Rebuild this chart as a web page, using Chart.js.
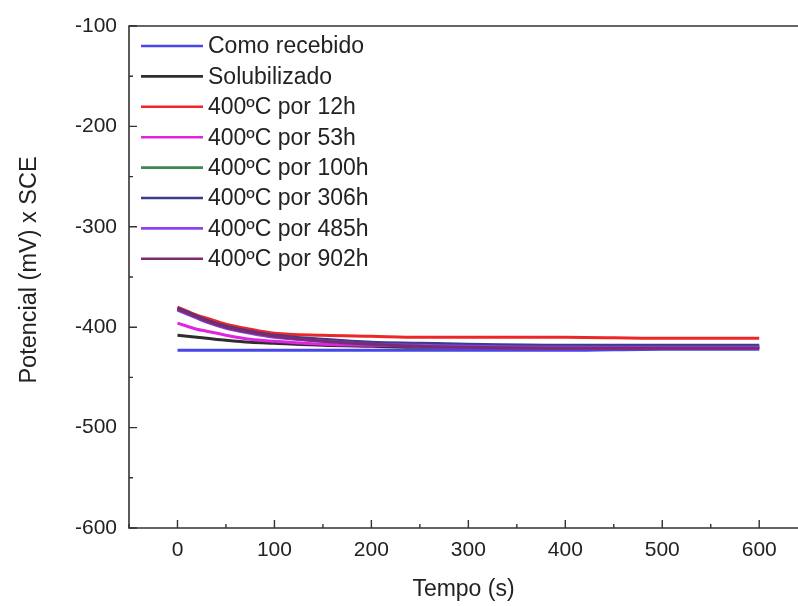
<!DOCTYPE html>
<html>
<head>
<meta charset="utf-8">
<script src="https://cdn.jsdelivr.net/npm/chart.js@4/dist/chart.umd.min.js"></script>
<style>
  html, body { margin: 0; padding: 0; background: #fff; }
  #wrap { position: relative; width: 798px; height: 606px; }
</style>
</head>
<body>
<div id="wrap"><canvas id="c" width="798" height="606"></canvas></div>
<script>
// Open-circuit potential vs time for each condition
const tempo = [0, 10, 20, 30, 50, 75, 100, 150, 200, 250, 300, 400, 500, 600];

const comoRecebido = [-423, -423, -423, -423, -423, -423, -423, -423, -423, -423, -423, -423, -422, -422];
const solubilizado = [-408, -409, -410, -411, -413, -415, -416, -418, -419, -420, -420, -421, -421, -420];
const h12  = [-380, -384, -388, -391, -397, -402, -406, -408, -409, -410, -410, -410, -411, -411];
const h53  = [-396, -399, -402, -404, -408, -412, -414, -417, -418, -419, -420, -421, -421, -421];
const h100 = [-382, -386, -390, -394, -400, -405, -409, -413, -416, -417, -418, -419, -419, -419];
const h306 = [-381, -385, -389, -393, -399, -404, -408, -412, -415, -416, -417, -418, -418, -418];
const h485 = [-383, -387, -391, -395, -401, -406, -410, -414, -417, -418, -419, -420, -420, -420];
const h902 = [-382, -386, -390, -394, -400, -405, -409, -414, -417, -419, -420, -421, -421, -421];

const seriesLabels = ['Como recebido', 'Solubilizado', '400ºC por 12h', '400ºC por 53h',
                      '400ºC por 100h', '400ºC por 306h', '400ºC por 485h', '400ºC por 902h'];
const seriesValues = [comoRecebido, solubilizado, h12, h53, h100, h306, h485, h902];
const seriesColors = ['#4646ea', '#2e2e2e', '#ee2626', '#e024e0', '#3a8a4e', '#3c3c8e', '#8a46ea', '#7c2a72'];

const xMajorTicks = [0, 100, 200, 300, 400, 500, 600];
const xMinorTicks = [-50, 50, 150, 250, 350, 450, 550];
const yMajorTicks = [-100, -200, -300, -400, -500, -600];
const yMinorTicks = [-150, -250, -350, -450, -550];

const FONT = '"Liberation Sans", Arial, sans-serif';
const INK = '#222';

const datasets = seriesValues.map((vals, i) => ({
  label: seriesLabels[i],
  data: tempo.map((t, j) => ({ x: t, y: vals[j] })),
  borderColor: seriesColors[i],
  backgroundColor: seriesColors[i],
  borderWidth: 3,
  pointRadius: 0,
  cubicInterpolationMode: 'monotone',
  order: seriesValues.length - i
}));

// Frame, inward tick marks, y-axis title and the in-plot legend
const framePlugin = {
  id: 'frame',
  afterDraw(chart) {
    const ctx = chart.ctx;
    const a = chart.chartArea;
    const xs = chart.scales.x, ys = chart.scales.y;
    ctx.save();
    ctx.strokeStyle = '#333';
    ctx.lineWidth = 1.6;
    ctx.beginPath();
    ctx.moveTo(a.right + 2, a.top);
    ctx.lineTo(a.left, a.top);
    ctx.lineTo(a.left, a.bottom);
    ctx.lineTo(a.right + 2, a.bottom);
    ctx.stroke();

    ctx.lineWidth = 1.4;
    ctx.beginPath();
    xMajorTicks.forEach(v => { const p = xs.getPixelForValue(v); ctx.moveTo(p, a.bottom); ctx.lineTo(p, a.bottom - 8); });
    xMinorTicks.forEach(v => { const p = xs.getPixelForValue(v); ctx.moveTo(p, a.bottom); ctx.lineTo(p, a.bottom - 4); });
    yMajorTicks.forEach(v => { const p = ys.getPixelForValue(v); ctx.moveTo(a.left, p); ctx.lineTo(a.left + 8, p); });
    yMinorTicks.forEach(v => { const p = ys.getPixelForValue(v); ctx.moveTo(a.left, p); ctx.lineTo(a.left + 4, p); });
    ctx.stroke();

    // y-axis title
    ctx.save();
    ctx.translate(30, 270);
    ctx.rotate(-Math.PI / 2);
    ctx.font = '23.5px ' + FONT;
    ctx.fillStyle = INK;
    ctx.textAlign = 'center';
    ctx.textBaseline = 'middle';
    ctx.fillText('Potencial (mV) x SCE', 0, 0);
    ctx.restore();

    // legend
    const x0 = 141, x1 = 203, tx = 208, y0 = 46, dy = 30.4;
    ctx.font = '23px ' + FONT;
    ctx.textBaseline = 'middle';
    ctx.textAlign = 'left';
    seriesLabels.forEach((lab, i) => {
      const y = y0 + i * dy;
      ctx.strokeStyle = seriesColors[i];
      ctx.lineWidth = 2.6;
      ctx.beginPath();
      ctx.moveTo(x0, y);
      ctx.lineTo(x1, y);
      ctx.stroke();
      ctx.fillStyle = INK;
      ctx.fillText(lab, tx, y + 1);
    });
    ctx.restore();
  }
};

new Chart(document.getElementById('c'), {
  type: 'line',
  data: { datasets },
  options: {
    responsive: false,
    animation: false,
    layout: { padding: { top: 26, right: 0, left: 0, bottom: 0 } },
    plugins: { legend: { display: false }, tooltip: { enabled: false } },
    scales: {
      x: {
        type: 'linear',
        min: -50,
        max: 640,
        afterBuildTicks: s => { s.ticks = xMajorTicks.map(v => ({ value: v })); },
        afterFit: s => { s.height = 78; },
        grid: { display: false, drawTicks: false },
        border: { display: false },
        ticks: { padding: 10, color: INK, font: { family: FONT, size: 21 }, maxRotation: 0, autoSkip: false },
        title: { display: true, text: 'Tempo (s)', color: INK, font: { family: FONT, size: 23 }, padding: { top: 3, bottom: 3 } }
      },
      y: {
        type: 'linear',
        min: -600,
        max: -100,
        afterBuildTicks: s => { s.ticks = yMajorTicks.map(v => ({ value: v })); },
        afterFit: s => { s.width = 129; },
        grid: { display: false, drawTicks: false },
        border: { display: false },
        ticks: { padding: 12, color: INK, font: { family: FONT, size: 21 }, autoSkip: false },
        title: { display: false }
      }
    }
  },
  plugins: [framePlugin]
});
</script>
</body>
</html>
